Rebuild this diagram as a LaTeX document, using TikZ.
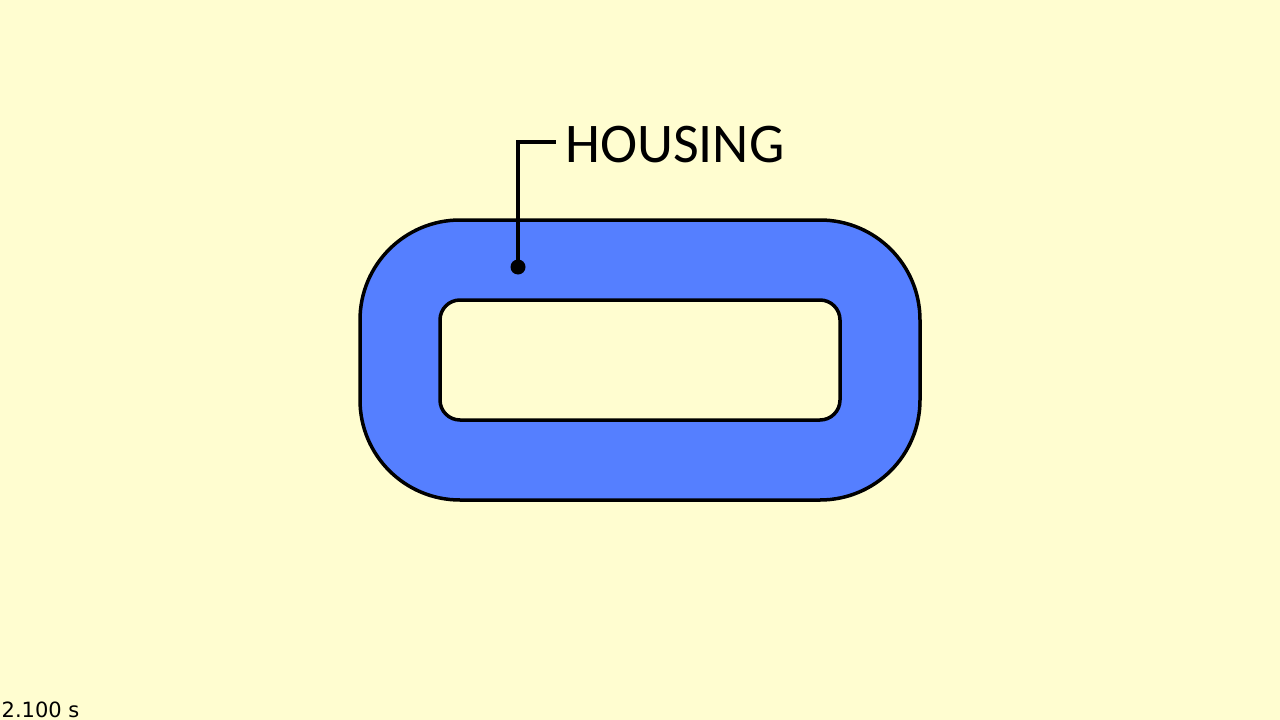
\documentclass[tikz,border=0pt]{standalone}
\usepackage{fontspec}
\newfontfamily\labelfont{Carlito}
\newfontfamily\timefont{DejaVu Sans}
\definecolor{bgyellow}{RGB}{255,253,208}
\definecolor{housingblue}{RGB}{85,127,255}
\tikzset{
  outline/.style={draw=black, line width=3.5pt},
  leader/.style={draw=black, line width=3.5pt},
  bigtext/.style={font=\labelfont\fontsize{56}{60}\selectfont, inner sep=0pt, anchor=base west},
  smalltext/.style={font=\timefont\fontsize{21}{24}\selectfont, inner sep=0pt, anchor=base west},
}
\begin{document}
\begin{tikzpicture}[x=1pt,y=-1pt]
\fill[bgyellow] (0,0) rectangle (1280,720);
\useasboundingbox (0,0) rectangle (1280,720);
% housing
\path[outline, fill=housingblue, rounded corners=100pt] (360,220) rectangle (920,500);
\path[outline, fill=bgyellow, rounded corners=20pt] (440,300) rectangle (840,420);
% label
\coordinate (dot) at (518,267);
\coordinate (bend) at (518,142);
\coordinate (lend) at (556,142);
\node[bigtext] (housing) at (565,162) {HOUSING};
\draw[leader] (dot) -- (bend) -- (lend);
\fill[black] (dot) circle (7.5pt);
\node[smalltext] (time) at (1.5,717) {2.100 s};
\end{tikzpicture}
\end{document}
